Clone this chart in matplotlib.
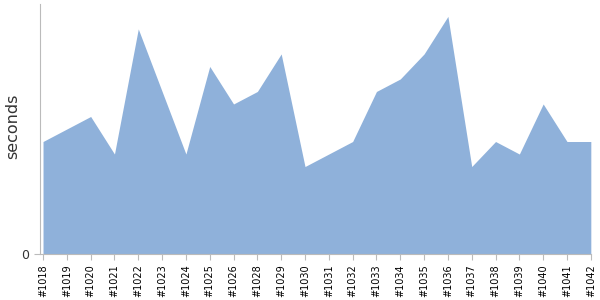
import matplotlib
matplotlib.use("Agg")
import matplotlib.pyplot as plt

# build numbers and their durations (seconds)
builds = ["#1018", "#1019", "#1020", "#1021", "#1022", "#1023", "#1024", "#1025",
          "#1026", "#1028", "#1029", "#1030", "#1031", "#1032", "#1033", "#1034",
          "#1035", "#1036", "#1037", "#1038", "#1039", "#1040", "#1041", "#1042"]
durations = [9, 10, 11, 8, 18, 13, 8, 15, 12, 13, 16, 7, 8, 9, 13, 14, 16, 19, 7, 9, 8, 12, 9, 9]

fig = plt.figure(figsize=(6, 3), dpi=100)
ax = fig.add_axes([0.0667, 0.153, 0.918, 0.834])

x = list(range(len(builds)))
ax.fill_between(x, durations, 0, color="#8fb1da", linewidth=0)

ax.set_xlim(-0.126, len(builds) - 1)
ax.set_ylim(0, 20)
ax.set_xticks(x)
ax.set_xticklabels(builds, rotation=90, fontsize=7)
ax.set_yticks([0])
ax.set_yticklabels(["0"], fontsize=9, color="#333333")
ax.set_ylabel("seconds", fontsize=11.5, color="#333333")
ax.yaxis.set_label_coords(-0.036, 0.51)

for side in ["top", "right"]:
    ax.spines[side].set_visible(False)
for side in ["left", "bottom"]:
    ax.spines[side].set_color("#bbbbbb")
ax.tick_params(axis="both", color="#bbbbbb", length=4)

fig.savefig("out.png", dpi=100)
